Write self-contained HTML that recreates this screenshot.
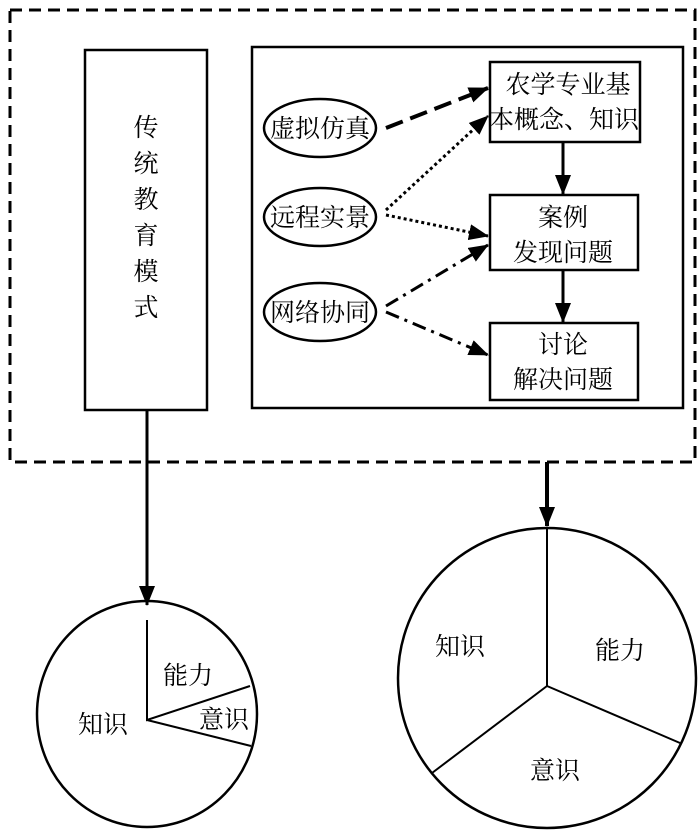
<!DOCTYPE html>
<html><head><style>body{margin:0;background:#fff}svg{display:block}text{font-family:"Liberation Serif","Noto Serif CJK SC",serif;fill:#000}</style></head>
<body>
<svg width="700" height="832" viewBox="0 0 700 832">
<defs>
<marker id="b" markerWidth="20" markerHeight="16" refX="19" refY="8" orient="auto" markerUnits="userSpaceOnUse" viewBox="0 0 20 16"><path d="M0,0L20,8L0,16z" fill="#000"/></marker>
</defs>
<rect x="10" y="10" width="685" height="452" fill="none" stroke="#000" stroke-width="3" stroke-dasharray="12,7"/>
<rect x="85" y="50" width="122" height="360" fill="none" stroke="#000" stroke-width="2.5"/>
<g font-size="25" text-anchor="middle">
<text x="146" y="136">传</text><text x="146" y="172">统</text><text x="146" y="208">教</text><text x="146" y="244">育</text><text x="146" y="280">模</text><text x="146" y="316">式</text>
</g>
<rect x="252" y="47" width="431" height="361" fill="none" stroke="#000" stroke-width="2.5"/>
<g fill="none" stroke="#000" stroke-width="2.5">
<ellipse cx="320" cy="128" rx="56" ry="29"/>
<ellipse cx="320" cy="217" rx="56" ry="29"/>
<ellipse cx="320" cy="312" rx="56" ry="29"/>
<rect x="490" y="62" width="150" height="80"/>
<rect x="490" y="195" width="148" height="75"/>
<rect x="490" y="323" width="148" height="77"/>
</g>
<g font-size="25" text-anchor="middle">
<text x="320" y="137">虚拟仿真</text>
<text x="320" y="226">远程实景</text>
<text x="320" y="321">网络协同</text>
<text x="568" y="93">农学专业基</text>
<text x="564" y="128">本概念、知识</text>
<text x="563" y="226">案例</text>
<text x="563" y="261">发现问题</text>
<text x="563" y="353">讨论</text>
<text x="563" y="388">解决问题</text>
</g>
<g stroke="#000" fill="none">
<line x1="386" y1="128" x2="488" y2="88" stroke-width="4" stroke-dasharray="18,8" marker-end="url(#b)"/>
<line x1="386" y1="210" x2="488" y2="116" stroke-width="3" stroke-dasharray="3,3" marker-end="url(#b)"/>
<line x1="386" y1="215" x2="488" y2="236" stroke-width="3" stroke-dasharray="3,3" marker-end="url(#b)"/>
<line x1="386" y1="306" x2="488" y2="245" stroke-width="3" stroke-dasharray="14,6,3,6" marker-end="url(#b)"/>
<line x1="386" y1="312" x2="488" y2="355" stroke-width="3" stroke-dasharray="14,6,3,6" marker-end="url(#b)"/>
<line x1="563" y1="142" x2="563" y2="194" stroke-width="3" marker-end="url(#b)"/>
<line x1="563" y1="270" x2="563" y2="322" stroke-width="3" marker-end="url(#b)"/>
<line x1="147" y1="410" x2="147" y2="605" stroke-width="3" marker-end="url(#b)"/>
<line x1="547" y1="462" x2="547" y2="526" stroke-width="4" marker-end="url(#b)"/>
<ellipse cx="147" cy="714" rx="110" ry="113" stroke-width="2.5"/>
<polyline points="147,620 147,720 250,686" stroke-width="2"/>
<line x1="147" y1="720" x2="251" y2="746" stroke-width="2"/>
<ellipse cx="547" cy="678" rx="149" ry="150" stroke-width="2.5"/>
<polyline points="547,528 547,686 680,743" stroke-width="2"/>
<line x1="547" y1="686" x2="432" y2="773" stroke-width="2"/>
</g>
<g font-size="25" text-anchor="middle">
<text x="188" y="684">能力</text>
<text x="224" y="728">意识</text>
<text x="103" y="733">知识</text>
<text x="460" y="655">知识</text>
<text x="620" y="659">能力</text>
<text x="555" y="779">意识</text>
</g>
</svg>
</body></html>
